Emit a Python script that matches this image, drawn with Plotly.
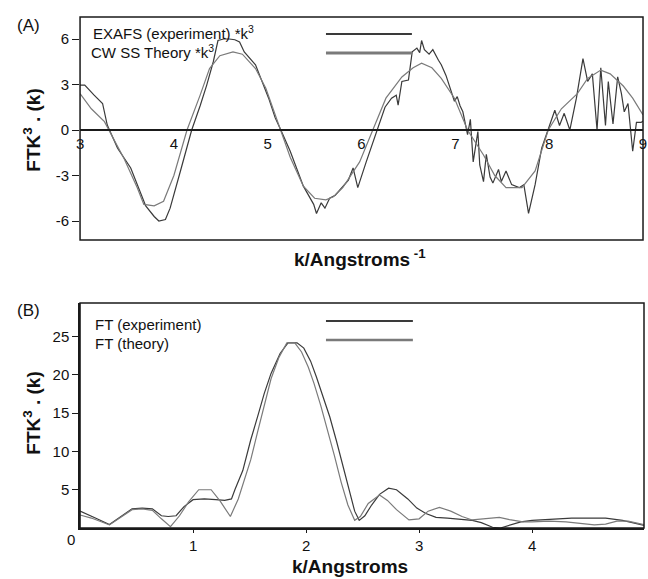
import plotly.graph_objects as go

# ---------------- data: panel A (EXAFS * k^3) ----------------
exp_k = [3.00,3.05,3.15,3.24,3.29,3.40,3.54,3.65,3.70,3.79,
         3.84,3.91,3.96,4.07,4.19,4.28,4.35,4.42,4.47,4.53,
         4.59,4.65,4.70,4.75,4.87,5.01,5.08,5.14,5.24,5.38,
         5.49,5.52,5.57,5.61,5.66,5.72,5.78,5.86,5.91,5.96,
         6.05,6.17,6.25,6.32,6.37,6.39,6.43,6.50,6.54,6.59,
         6.62,6.64,6.67,6.72,6.76,6.82,6.85,6.90,6.95,6.99,
         7.02,7.05,7.08,7.13,7.16,7.19,7.24,7.26,7.30,7.33,
         7.37,7.40,7.46,7.49,7.54,7.60,7.68,7.73,7.78,7.85,
         7.92,7.99,8.06,8.11,8.16,8.22,8.29,8.36,8.41,8.46,
         8.51,8.55,8.60,8.63,8.68,8.73,8.77,8.80,8.84,8.89,
         8.93,8.98,9.00]
exp_chi = [2.96,2.96,2.3,1.75,0.33,-1.2,-2.5,-4.3,-5.0,-5.7,
           -6.0,-5.9,-5.15,-2.7,0.0,1.6,2.96,4.5,5.9,6.0,
           6.0,5.95,5.8,5.15,4.3,2.1,0.8,0.0,-1.4,-3.7,
           -4.9,-5.5,-4.8,-5.15,-4.5,-4.3,-3.9,-3.3,-2.5,-3.8,
           -2.1,0.0,1.5,2.1,2.3,1.64,3.2,3.3,5.15,5.4,
           5.1,5.9,5.3,5.0,5.3,4.6,4.3,3.6,2.7,1.9,
           2.2,1.6,1.2,-0.3,0.7,-2.1,-0.1,-2.3,-3.4,-1.6,
           -3.1,-3.5,-2.6,-3.4,-2.7,-3.6,-3.8,-3.6,-5.5,-3.6,
           -1.2,0.1,1.3,0.3,1.1,0.0,2.1,4.7,3.2,3.7,
           0.0,4.1,0.3,3.2,0.4,3.5,2.4,1.2,1.75,-1.4,
           0.5,0.5,0.6]

th_k = [3.00,3.12,3.26,3.33,3.47,3.61,3.68,3.79,3.89,4.00,
        4.14,4.28,4.38,4.49,4.63,4.73,4.87,4.98,5.08,5.14,
        5.24,5.38,5.50,5.62,5.70,5.80,5.98,6.12,6.26,6.43,
        6.55,6.64,6.75,6.85,6.99,7.13,7.30,7.42,7.54,7.71,
        7.85,7.99,8.13,8.30,8.41,8.55,8.65,8.79,8.89,9.00]
th_chi = [2.4,1.4,0.55,-0.3,-1.9,-3.8,-4.9,-5.0,-4.7,-3.0,
          0.0,2.3,4.05,4.9,5.15,5.0,4.05,2.75,1.0,0.0,
          -1.8,-3.7,-4.5,-4.6,-4.4,-3.8,-2.1,0.0,2.1,3.5,
          4.1,4.4,4.1,3.4,2.1,0.0,-1.65,-3.0,-3.8,-3.8,
          -2.7,0.0,1.4,2.4,3.4,3.95,3.7,2.9,2.1,1.0]

# ---------------- data: panel B (Fourier transforms) ----------------
ft_r_exp = [0.00,0.05,0.15,0.26,0.36,0.46,0.55,0.64,0.72,0.78,
            0.85,0.92,1.00,1.10,1.20,1.28,1.34,1.37,1.44,1.51,
            1.58,1.63,1.69,1.77,1.84,1.92,1.98,2.04,2.09,2.15,
            2.21,2.27,2.33,2.39,2.43,2.47,2.52,2.58,2.65,2.73,
            2.80,2.90,2.98,3.06,3.15,3.25,3.35,3.47,3.55,3.65,
            3.72,3.80,3.90,4.00,4.10,4.20,4.35,4.50,4.65,4.80,
            4.90,5.00]
ft_exp = [2.2,1.9,1.2,0.45,1.5,2.5,2.6,2.5,1.6,1.5,
          1.6,2.8,3.7,3.8,3.7,3.6,3.8,5.0,7.5,11.5,
          15.0,17.6,20.2,22.8,24.2,24.2,23.5,21.8,19.8,17.2,
          14.5,11.3,8.0,4.5,2.2,1.0,1.6,3.0,4.4,5.2,
          5.0,3.8,2.6,1.9,1.4,1.3,1.2,1.0,0.7,0.1,
          0.0,0.4,0.8,1.0,1.1,1.2,1.3,1.3,1.3,1.0,
          0.6,0.3]

ft_r_th = [0.00,0.10,0.26,0.36,0.46,0.55,0.64,0.72,0.80,0.88,
           0.96,1.05,1.16,1.24,1.33,1.40,1.46,1.51,1.57,1.63,
           1.69,1.76,1.83,1.90,1.96,2.02,2.07,2.13,2.19,2.25,
           2.31,2.37,2.43,2.48,2.55,2.65,2.72,2.80,2.91,3.00,
           3.08,3.18,3.28,3.38,3.47,3.60,3.71,3.80,3.92,4.00,
           4.15,4.30,4.45,4.55,4.65,4.75,4.85,4.95,5.00]
ft_th = [1.7,1.3,0.4,1.4,2.4,2.5,2.3,1.2,0.17,1.6,
         3.4,5.0,5.0,3.5,1.5,3.8,6.5,8.9,12.5,16.0,
         19.5,22.3,24.2,24.2,23.0,21.0,18.9,16.0,12.8,9.5,
         6.0,3.0,1.0,1.5,3.2,4.3,3.6,2.4,1.05,1.2,
         2.2,2.7,2.2,1.5,1.05,1.2,1.4,1.1,0.8,0.8,
         0.9,0.8,0.5,0.4,0.5,0.9,0.9,0.5,0.4]

ticks_a_x = [3, 4, 5, 6, 7, 8, 9]
ticks_a_y = [-6, -3, 0, 3, 6]
ticks_a_y_text = ["-6", "-3", "0", "3", "6"]
ticks_b_x = [1, 2, 3, 4]
ticks_b_y = [5, 10, 15, 20, 25]

legend_a = ["EXAFS (experiment) *k<sup>3</sup>", "CW SS Theory *k<sup>3</sup>"]
legend_b = ["FT (experiment)", "FT (theory)"]

# ---------------- styling / geometry ----------------
W, H = 648, 579
FONT = "Liberation Sans, Arial, sans-serif"
C_EXP = "#3a3a3a"
C_TH = "#7a7a7a"
BOX = "#1a1a1a"

def px(x):
    return x / W

def py(y):
    return 1 - y / H

fig = go.Figure()

fig.add_trace(go.Scatter(x=exp_k, y=exp_chi, mode="lines",
                         line=dict(color=C_EXP, width=1.2),
                         xaxis="x", yaxis="y", showlegend=False))
fig.add_trace(go.Scatter(x=th_k, y=th_chi, mode="lines",
                         line=dict(color=C_TH, width=1.2),
                         xaxis="x", yaxis="y", showlegend=False))
fig.add_trace(go.Scatter(x=ft_r_exp, y=ft_exp, mode="lines",
                         line=dict(color=C_EXP, width=1.2),
                         xaxis="x2", yaxis="y2", showlegend=False))
fig.add_trace(go.Scatter(x=ft_r_th, y=ft_th, mode="lines",
                         line=dict(color=C_TH, width=1.2),
                         xaxis="x2", yaxis="y2", showlegend=False))

tickfont = dict(family=FONT, size=15, color="#111")

A_Y_MIN, A_Y_MAX = -7.25, 7.45
a_top, a_bot = 17, 240
b_top, b_bot = 303, 528
zero_pos = py(a_top + (a_bot - a_top) * (A_Y_MAX - 0) / (A_Y_MAX - A_Y_MIN))

fig.update_layout(
    width=W, height=H,
    margin=dict(l=0, r=0, t=0, b=0),
    paper_bgcolor="white", plot_bgcolor="white",
    font=dict(family=FONT, color="#111"),
    xaxis=dict(domain=[px(77), px(647)], range=[3, 9], anchor="free",
               position=zero_pos, showline=True, linecolor=BOX, linewidth=1.5,
               tickvals=ticks_a_x, ticks="", ticklen=0, showgrid=False,
               zeroline=False, tickfont=tickfont, ticklabeloverflow="allow"),
    yaxis=dict(domain=[py(a_bot), py(a_top)], range=[A_Y_MIN, A_Y_MAX],
               anchor="x", showline=False, ticks="outside", ticklen=7,
               tickwidth=1.2, tickcolor=BOX, tickvals=ticks_a_y,
               ticktext=ticks_a_y_text,
               showgrid=False, zeroline=False, tickfont=tickfont),
    xaxis2=dict(domain=[px(77), px(648)], range=[0, 4.99], anchor="y2",
                showline=True, linecolor=BOX, linewidth=1.5,
                tickvals=ticks_b_x, ticks="outside", ticklen=3,
                tickcolor=BOX, showgrid=False, zeroline=False,
                tickfont=tickfont),
    yaxis2=dict(domain=[py(b_bot), py(b_top)], range=[0, 29.4], anchor="x2",
                showline=True, linecolor=BOX, linewidth=1.5,
                ticks="outside", ticklen=6, tickwidth=1.2, tickcolor=BOX,
                tickvals=ticks_b_y, showgrid=False, zeroline=False,
                tickfont=tickfont),
)

shapes = [
    dict(type="rect", xref="x domain", yref="y domain", x0=0, x1=1, y0=0, y1=1,
         line=dict(color=BOX, width=1.5), layer="above"),
    dict(type="rect", xref="x2 domain", yref="y2 domain", x0=0, x1=1, y0=0, y1=1,
         line=dict(color=BOX, width=1.5), layer="above"),
    # legend keys
    dict(type="line", xref="paper", yref="paper", x0=px(326), x1=px(413),
         y0=py(34), y1=py(34), line=dict(color=C_EXP, width=2.2)),
    dict(type="line", xref="paper", yref="paper", x0=px(326), x1=px(413),
         y0=py(53), y1=py(53), line=dict(color=C_TH, width=2.8)),
    dict(type="line", xref="paper", yref="paper", x0=px(326), x1=px(414),
         y0=py(321), y1=py(321), line=dict(color=C_EXP, width=2.2)),
    dict(type="line", xref="paper", yref="paper", x0=px(326), x1=px(414),
         y0=py(340), y1=py(340), line=dict(color=C_TH, width=2.4)),
]
fig.update_layout(shapes=shapes)

def ann(text, x, y, size=15, bold=False, angle=0, xanchor="center"):
    t = f"<b>{text}</b>" if bold else text
    return dict(text=t, x=px(x), y=py(y), xref="paper", yref="paper",
                showarrow=False, xanchor=xanchor, yanchor="middle",
                textangle=angle, font=dict(family=FONT, size=size, color="#111"))

annotations = [
    ann("(A)", 25, 25, size=17),
    ann("(B)", 25, 311, size=17),
    ann(legend_a[0], 88, 33, size=15, xanchor="left"),
    ann(legend_a[1], 86, 52, size=15, xanchor="left"),
    ann(legend_b[0], 90, 324, size=15, xanchor="left"),
    ann(legend_b[1], 90, 343, size=15, xanchor="left"),
    ann("FTK<sup>3</sup> . (k)", 28, 130, size=19, bold=True, angle=-90),
    ann("FTK<sup>3</sup> . (k)", 28, 413, size=19, bold=True, angle=-90),
    ann("k/Angstroms<sup> -1</sup>", 360, 258, size=19, bold=True),
    ann("k/Angstroms", 350, 566, size=19, bold=True),
    ann("0", 68, 539, size=15),
]
fig.update_layout(annotations=annotations)

fig.write_html("out.html",
               config={"displayModeBar": False},
               post_script="document.body.style.margin='0';document.body.style.padding='0';")
